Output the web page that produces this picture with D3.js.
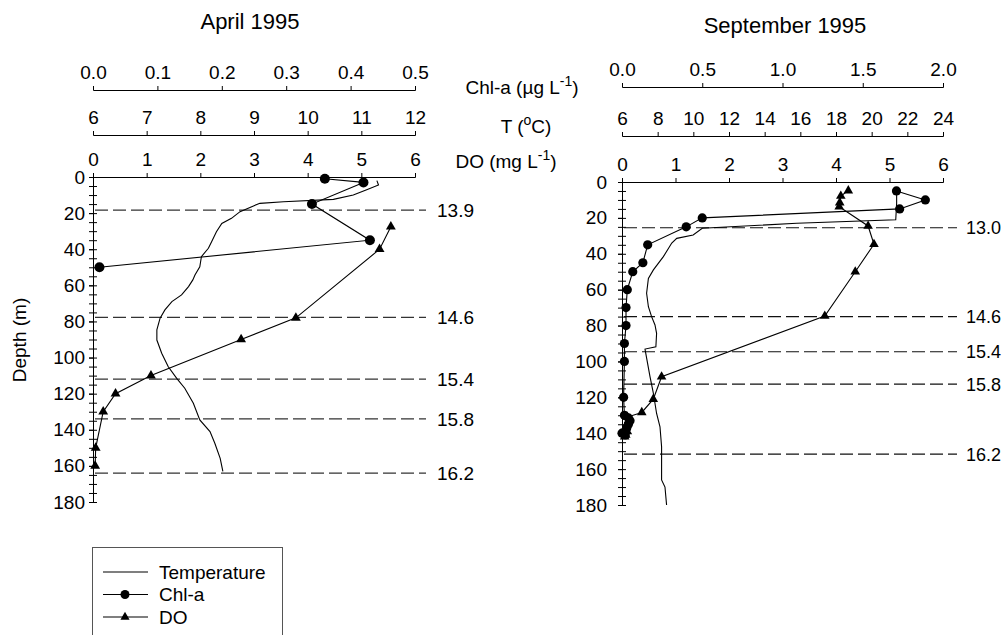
<!DOCTYPE html>
<html><head><meta charset="utf-8">
<script src="https://cdn.jsdelivr.net/npm/d3@7"></script>
<style>
body{margin:0;background:#fff}
svg text{font-family:"Liberation Sans",Arial,Helvetica,sans-serif;fill:#000}
</style>
</head><body><svg id="c" width="1004" height="635"></svg>
<script>
// ---------- DATA ----------
// April 1995
const aprChlDepth = [1, 3, 15, 35, 50];
const aprChl      = [0.36, 0.42, 0.34, 0.43, 0.01];
const aprDODepth  = [27.5, 40, 78, 90, 110, 120, 130, 150, 160];
const aprDO       = [5.55, 5.34, 3.78, 2.76, 1.08, 0.42, 0.19, 0.05, 0.04];
const aprTempDepth = [2, 4.4, 7, 10, 12.4, 13.7, 14.6, 16, 19.2, 22.9, 25.7, 30.3, 35.8, 39.5, 44.1, 49.7, 54.3, 57, 60.7, 65.3, 69, 73.6, 78.2, 84.7, 90.3, 97.6, 105, 111.5, 117, 125.3, 134.5, 141, 147.5, 155.8, 163];
const aprTemp      = [11.29, 11.32, 11.1, 10.85, 10.48, 9.55, 9.11, 8.99, 8.74, 8.58, 8.40, 8.30, 8.21, 8.15, 8.02, 7.99, 7.90, 7.86, 7.78, 7.65, 7.47, 7.34, 7.25, 7.19, 7.19, 7.28, 7.40, 7.56, 7.71, 7.87, 7.99, 8.18, 8.27, 8.37, 8.42];
const aprLineDepths = [18.3, 77.7, 112, 134, 164];
const aprLineLabels = ["13.9", "14.6", "15.4", "15.8", "16.2"];

// September 1995
const sepChlDepth = [5, 10, 15, 20, 25, 35, 45, 50, 60, 70, 80, 90, 100, 120, 130, 131.5, 133, 135, 137, 139, 140, 141];
const sepChl      = [1.71, 1.89, 1.73, 0.50, 0.40, 0.16, 0.13, 0.067, 0.033, 0.025, 0.025, 0.015, 0.015, 0.01, 0.015, 0.04, 0.05, 0.04, 0.03, 0.02, 0.0, 0.02];
const sepDODepth  = [4.8, 7.8, 11.5, 13.8, 24.5, 34.7, 50, 74.7, 108.5, 121, 128.4, 131, 133, 135, 137, 139, 141, 142];
const sepDO       = [4.23, 4.09, 4.07, 4.06, 4.60, 4.71, 4.36, 3.79, 0.74, 0.585, 0.37, 0.10, 0.12, 0.10, 0.08, 0.10, 0.07, 0.05];
const sepTempDepth = [5, 12, 21, 23, 25.8, 29.5, 31.4, 34, 41.6, 49, 53.7, 62, 69.5, 75, 79.7, 84.3, 91.8, 93.1, 108.5, 117.8, 129, 136.4, 147.5, 158.7, 166, 170, 180];
const sepTemp      = [21.4, 21.4, 21.35, 15.8, 10.5, 9.99, 9.07, 8.79, 8.32, 7.76, 7.48, 7.38, 7.48, 7.66, 7.85, 7.94, 7.9, 7.29, 7.57, 7.76, 7.94, 8.13, 8.22, 8.22, 8.22, 8.41, 8.5];
const sepLineDepths = [25.5, 75, 94.6, 112.6, 151.6];
const sepLineLabels = ["13.0", "14.6", "15.4", "15.8", "16.2"];

// Tick values
const depthTicks = [0, 20, 40, 60, 80, 100, 120, 140, 160, 180];
const doTicks = [0, 1, 2, 3, 4, 5, 6];
const aprChlTicks = [0.0, 0.1, 0.2, 0.3, 0.4, 0.5];
const aprTTicks = [6, 7, 8, 9, 10, 11, 12];
const sepChlTicks = [0.0, 0.5, 1.0, 1.5, 2.0];
const sepTTicks = [6, 8, 10, 12, 14, 16, 18, 20, 22, 24];
const legendItems = ["Temperature", "Chl-a", "DO"];

// ---------- LAYOUT ----------
const svg = d3.select("#c");
const FONT = 19;

const panels = [
  { title: "April 1995", titleX: 250, titleY: 29,
    x0: 93, x1: 415, yTop: 177, yBot: 502, chlY: 90, tY: 135,
    chlDom: [0, 0.5], tDom: [6, 12], chlTicks: aprChlTicks, tTicks: aprTTicks,
    chlDepth: aprChlDepth, chl: aprChl, doDepth: aprDODepth, dO: aprDO,
    tDepth: aprTempDepth, temp: aprTemp, lDepth: aprLineDepths, lLab: aprLineLabels,
    dashEnd: 426, labX: 437, labFont: 19, yPad: 4, r: 5, tri: 42, dashColor: "#333" },
  { title: "September 1995", titleX: 785, titleY: 33,
    x0: 622, x1: 943, yTop: 182, yBot: 505, chlY: 87, tY: 136,
    chlDom: [0, 2], tDom: [6, 24], chlTicks: sepChlTicks, tTicks: sepTTicks,
    chlDepth: sepChlDepth, chl: sepChl, doDepth: sepDODepth, dO: sepDO,
    tDepth: sepTempDepth, temp: sepTemp, lDepth: sepLineDepths, lLab: sepLineLabels,
    dashEnd: 957, labX: 966, labFont: 18, yPad: 11, r: 4.6, tri: 40, dashColor: "#111" }
];

function styleAxis(g) {
  g.attr("font-size", FONT).attr("font-family", null);
  g.selectAll("path,line").attr("stroke", "#000").attr("stroke-width", 1);
}

panels.forEach(p => {
  const y = d3.scaleLinear([0, 180], [p.yTop, p.yBot]);
  const xDO = d3.scaleLinear([0, 6], [p.x0, p.x1]);
  const xChl = d3.scaleLinear(p.chlDom, [p.x0, p.x1]);
  const xT = d3.scaleLinear(p.tDom, [p.x0, p.x1]);

  svg.append("text").attr("x", p.titleX).attr("y", p.titleY)
    .attr("text-anchor", "middle").attr("font-size", 22).text(p.title);

  // top axes
  svg.append("g").attr("transform", `translate(0,${p.chlY})`)
    .call(d3.axisTop(xChl).tickValues(p.chlTicks).tickFormat(d3.format(".1f")).tickSize(4).tickPadding(7))
    .call(styleAxis);
  svg.append("g").attr("transform", `translate(0,${p.tY})`)
    .call(d3.axisTop(xT).tickValues(p.tTicks).tickFormat(d3.format("d")).tickSize(4).tickPadding(7))
    .call(styleAxis);
  svg.append("g").attr("transform", `translate(0,${p.yTop})`)
    .call(d3.axisTop(xDO).tickValues(doTicks).tickFormat(d3.format("d")).tickSize(4).tickPadding(7).tickSizeOuter(4))
    .call(styleAxis);

  // depth axis
  svg.append("g").attr("transform", `translate(${p.x0},0)`)
    .call(d3.axisLeft(y).tickValues(depthTicks).tickSize(4).tickPadding(p.yPad).tickSizeOuter(4))
    .call(styleAxis);
  svg.append("g").attr("transform", `translate(${p.x0},0)`)
    .call(d3.axisRight(y).tickValues(d3.range(0, 181, 5)).tickSize(4).tickFormat(""))
    .call(styleAxis)
    .call(g => g.select(".domain").remove());
  svg.append("g").attr("transform", `translate(${p.x0},0)`)
    .call(d3.axisLeft(y).tickValues(d3.range(0, 181, 5)).tickSize(4).tickFormat(""))
    .call(styleAxis)
    .call(g => g.select(".domain").remove());

  // dashed reference lines
  p.lDepth.forEach((d, i) => {
    svg.append("line").attr("x1", p.x0 + 2).attr("x2", p.dashEnd)
      .attr("y1", y(d)).attr("y2", y(d))
      .attr("stroke", p.dashColor).attr("stroke-width", 1.2)
      .attr("stroke-dasharray", "13,5");
    svg.append("text").attr("x", p.labX).attr("y", y(d)).attr("dy", "0.36em")
      .attr("font-size", p.labFont).text(p.lLab[i]);
  });

  // temperature
  const tPts = p.tDepth.map((d, i) => [xT(p.temp[i]), y(d)]);
  svg.append("path").attr("d", d3.line()(tPts))
    .attr("fill", "none").attr("stroke", "#000").attr("stroke-width", 1.1);

  // Chl-a
  const cPts = p.chlDepth.map((d, i) => [xChl(p.chl[i]), y(d)]);
  svg.append("path").attr("d", d3.line()(cPts))
    .attr("fill", "none").attr("stroke", "#000").attr("stroke-width", 1.1);
  svg.selectAll(null).data(cPts).join("circle")
    .attr("cx", d => d[0]).attr("cy", d => d[1]).attr("r", p.r).attr("fill", "#000");

  // DO
  const dPts = p.doDepth.map((d, i) => [xDO(p.dO[i]), y(d)]);
  svg.append("path").attr("d", d3.line()(dPts))
    .attr("fill", "none").attr("stroke", "#000").attr("stroke-width", 1.1);
  const tri = d3.symbol().type(d3.symbolTriangle).size(p.tri);
  svg.selectAll(null).data(dPts).join("path")
    .attr("d", tri).attr("transform", d => `translate(${d[0]},${d[1]})`).attr("fill", "#000");
});

// central axis titles
function supLabel(x, yy, parts) {
  const t = svg.append("text").attr("x", x).attr("y", yy).attr("text-anchor", "middle").attr("font-size", FONT);
  parts.forEach(pt => {
    const s = t.append("tspan").text(pt[0]);
    if (pt[1]) s.attr("baseline-shift", "super").attr("font-size", 14);
  });
}
supLabel(522, 94, [["Chl-a (µg L"], ["-1", true], [")"]]);
supLabel(526, 133, [["T ("], ["o", true], ["C)"]]);
supLabel(506, 168, [["DO (mg L"], ["-1", true], [")"]]);

// depth label
svg.append("text").attr("transform", "translate(26,340) rotate(-90)")
  .attr("text-anchor", "middle").attr("font-size", FONT).text("Depth (m)");

// legend
const lg = svg.append("g");
lg.append("rect").attr("x", 92.5).attr("y", 547.5).attr("width", 190).attr("height", 100)
  .attr("fill", "none").attr("stroke", "#555").attr("stroke-width", 1);
const rowY = d3.scalePoint(legendItems, [572, 617]);
legendItems.forEach((name, i) => {
  const yy = rowY(name);
  lg.append("line").attr("x1", 103).attr("x2", 148).attr("y1", yy).attr("y2", yy)
    .attr("stroke", "#000").attr("stroke-width", 1.1);
  if (i === 1) lg.append("circle").attr("cx", 125).attr("cy", yy).attr("r", 4.5).attr("fill", "#000");
  if (i === 2) lg.append("path").attr("d", d3.symbol().type(d3.symbolTriangle).size(36))
    .attr("transform", `translate(125,${yy})`).attr("fill", "#000");
  lg.append("text").attr("x", 159).attr("y", yy).attr("dy", "0.36em")
    .attr("font-size", 19).text(name);
});
</script>
</body></html>
